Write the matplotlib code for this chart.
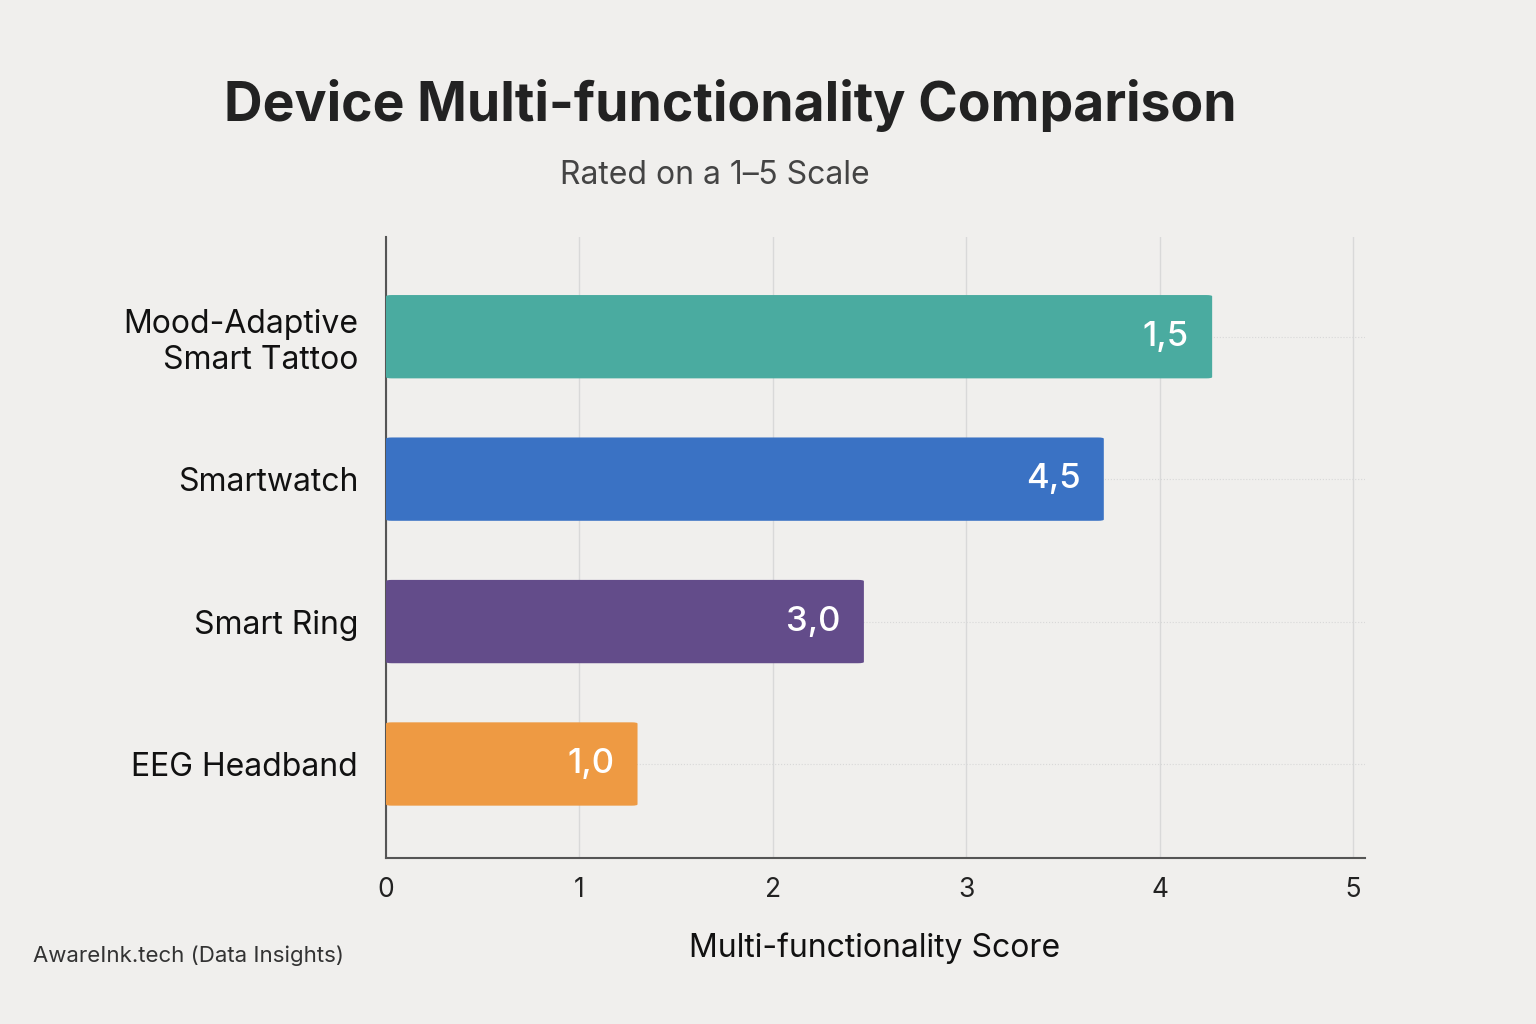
import matplotlib
matplotlib.use("Agg")
import matplotlib.pyplot as plt
from matplotlib.patches import FancyBboxPatch

plt.rcParams["font.family"] = "Inter"

# data (bar lengths as drawn; value labels as printed on the reference)
devices = ["Mood-Adaptive\nSmart Tattoo", "Smartwatch", "Smart Ring", "EEG Headband"]
bar_lengths = [4.27, 3.71, 2.47, 1.30]
value_labels = ["1,5", "4,5", "3,0", "1,0"]
colors = ["#4aaba0", "#3a72c4", "#634c8a", "#ee9a43"]
xticks = [0, 1, 2, 3, 4, 5]

BG = "#f0efed"
fig = plt.figure(figsize=(15.36, 10.24), dpi=100, facecolor=BG)
ax = fig.add_axes([386 / 1536, 1 - 858 / 1024, (1365 - 386) / 1536, (858 - 237) / 1024])
ax.set_facecolor(BG)

ypos = [3, 2, 1, 0]
bh = 0.585
for y, w, c, lab in zip(ypos, bar_lengths, colors, value_labels):
    ax.add_patch(FancyBboxPatch((0, y - bh / 2), w, bh,
                                boxstyle="round,pad=0,rounding_size=0.03",
                                fc=c, ec="none", zorder=3, mutation_aspect=0.3))
    ax.text(w - 0.12, y, lab, ha="right", va="center", color="white",
            fontsize=25, fontweight="medium", zorder=4)
    ax.axhline(y, color="#d8d8d8", lw=0.8, ls=":", zorder=1)

ax.set_xlim(0, 5.06)
ax.set_ylim(-0.66, 3.70)
ax.set_xticks(xticks)
ax.set_xticklabels([str(t) for t in xticks], fontsize=19, color="#222222")
ax.set_yticks(ypos)
ax.set_yticklabels(devices, fontsize=23, color="#111111")
ax.tick_params(length=0, pad=14)
ax.tick_params(axis="y", pad=20)
ax.grid(axis="x", color="#d9d9d9", lw=1, zorder=0)
for s in ["top", "right"]:
    ax.spines[s].set_visible(False)
for s in ["left", "bottom"]:
    ax.spines[s].set_color("#555555")
    ax.spines[s].set_linewidth(1.5)
ax.set_xlabel("Multi-functionality Score", fontsize=23, color="#111111", labelpad=18)
ax.xaxis.set_label_coords((875 - 386) / (1365 - 386), -0.12)

fig.text(730 / 1536, 1 - 106 / 1024, "Device Multi-functionality Comparison",
         ha="center", va="center", fontsize=38.5, fontweight="bold", color="#222222")
fig.text(715 / 1536, 1 - 175 / 1024, "Rated on a 1\u20135 Scale",
         ha="center", va="center", fontsize=23, color="#444444")
fig.text(33 / 1536, 1 - 956 / 1024, "AwareInk.tech (Data Insights)",
         ha="left", va="center", fontsize=16, color="#333333")

fig.savefig("out.png", dpi=100, facecolor=BG)
